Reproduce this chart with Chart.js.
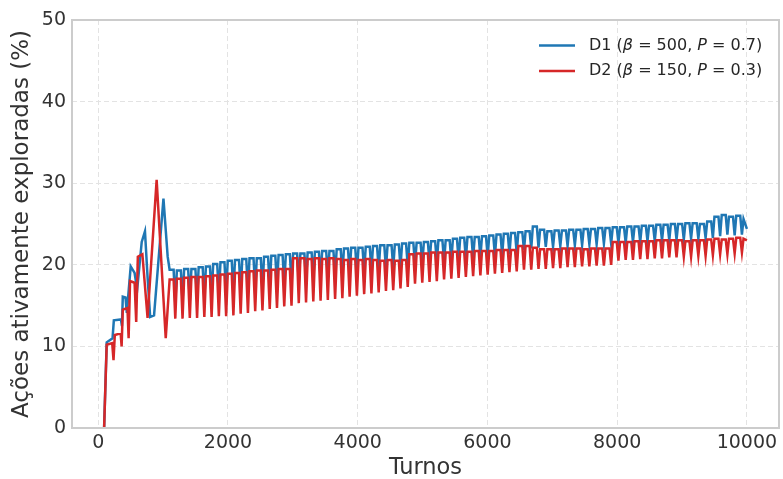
<!DOCTYPE html>
<html>
<head>
<meta charset="utf-8">
<script src="https://cdn.jsdelivr.net/npm/chart.js@4"></script>
<style>
  html, body { margin: 0; padding: 0; background: #fff; }
  #wrap { width: 783px; height: 479px; }
</style>
</head>
<body>
<div id="wrap"><canvas id="chart"></canvas></div>
<script>
// início (transiente) das duas curvas: turno e valor (%)
const blueStartTurns = [90, 130, 220, 240, 350, 365, 378, 420, 440, 500, 560, 600, 670, 720, 760, 800, 860, 1005, 1070];
const blueStartVals  = [0, 10.5, 11.0, 13.2, 13.3, 12.5, 16.1, 16.0, 14.1, 19.8, 19.0, 17.0, 22.8, 24.1, 18.5, 13.6, 13.8, 28.1, 21.0];
const redStartTurns  = [90, 130, 215, 235, 255, 345, 360, 378, 450, 468, 490, 560, 585, 610, 680, 760, 900, 1040];
const redStartVals   = [0, 10.2, 10.4, 8.3, 11.4, 11.6, 10.0, 14.5, 14.7, 11.0, 18.0, 17.8, 13.0, 21.0, 21.3, 13.5, 30.4, 11.0];

// depois do transiente: oscilação (topo e fundo de cada ciclo)
const cycleStart = 1100;
const cyclePeriod = 112;
const blueTops = [
  19.4, 19.3, 19.5, 19.5, 19.7, 19.8, 20.1, 20.3, 20.5,
  20.6, 20.7, 20.8, 20.8, 21.0, 21.1, 21.2, 21.3,
  21.4, 21.4, 21.5, 21.6, 21.7, 21.7, 21.9, 22.0, 22.1, 22.1, 22.2, 22.3, 22.4, 22.4, 22.5, 22.6,
  22.7, 22.7, 22.8, 22.9, 23.0, 23.0, 23.2, 23.3, 23.4, 23.4, 23.5, 23.6, 23.7, 23.8, 23.9,
  24.0, 24.1, 24.7, 24.3, 24.1, 24.2, 24.2, 24.3, 24.3, 24.4, 24.4, 24.5, 24.5,
  24.6, 24.6, 24.7, 24.7, 24.8, 24.8, 24.9, 24.9, 25.0, 25.0, 25.1, 25.1, 25.0, 25.3, 25.9, 26.1, 25.9, 26.0, 25.6
];
const blueBottoms = [
  15.3, 15.5, 15.6, 15.8, 15.9, 16.1, 16.2, 16.4, 16.5,
  16.7, 16.8, 17.0, 17.1, 17.3, 17.4, 17.6, 17.7,
  17.9, 18.1, 18.2, 18.4, 18.5, 18.7, 18.8, 19.0, 19.1, 19.2, 19.3, 19.4, 19.5, 19.6, 19.7, 19.8,
  20.0, 20.1, 20.2, 20.3, 20.4, 20.5, 20.6, 20.7, 20.8, 20.9, 21.0, 21.1, 21.2, 21.3, 21.4,
  21.8, 22.0, 22.1, 22.2, 22.2, 22.3, 22.3, 22.4, 22.4, 22.5, 22.5, 22.6, 22.6,
  22.7, 22.7, 22.8, 22.8, 22.9, 22.9, 23.0, 23.0, 23.1, 23.1, 23.2, 23.2, 23.3, 23.3, 23.5, 23.7, 23.6, 23.7, 23.6
];
const redTops = [
  18.2, 18.3, 18.4, 18.5, 18.5, 18.6, 18.7, 18.8, 18.9,
  19.0, 19.1, 19.2, 19.3, 19.3, 19.4, 19.5, 19.5,
  20.8, 20.8, 20.7, 20.8, 20.7, 20.8, 20.7, 20.6, 20.7, 20.6, 20.7, 20.6, 20.5, 20.6, 20.5, 20.6,
  21.3, 21.4, 21.4, 21.5, 21.5, 21.5, 21.6, 21.6, 21.6, 21.7, 21.7, 21.7, 21.8, 21.8, 21.8,
  22.3, 22.3, 22.1, 21.9, 21.9, 21.9, 22.0, 22.0, 22.0, 21.9, 22.0, 22.0, 22.0,
  22.8, 22.8, 22.8, 22.9, 22.9, 22.9, 23.0, 23.0, 23.0, 23.0, 22.9, 23.0, 23.0, 23.1, 23.2, 23.1, 23.2, 23.3, 23.2
];
const redBottoms = [
  13.4, 13.4, 13.5, 13.5, 13.6, 13.6, 13.7, 13.7, 13.8,
  14.0, 14.1, 14.3, 14.4, 14.6, 14.7, 14.9, 15.0,
  15.3, 15.4, 15.5, 15.6, 15.7, 15.8, 15.9, 16.1, 16.2, 16.4, 16.5, 16.6, 16.8, 16.9, 17.1, 17.3,
  17.7, 17.8, 17.9, 18.0, 18.2, 18.3, 18.4, 18.5, 18.6, 18.7, 18.8, 18.9, 19.0, 19.1, 19.2,
  19.4, 19.4, 19.5, 19.5, 19.6, 19.6, 19.7, 19.7, 19.8, 19.8, 19.9, 19.9, 20.0,
  20.5, 20.6, 20.6, 20.7, 20.7, 20.8, 20.8, 20.9, 20.9, 21.0, 21.0, 21.1, 21.1, 21.2, 21.3, 21.3, 21.4, 21.5, 21.5
];
const lastTurn = 10000;
const blueLast = 24.4;
const redLast = 23.0;

const xTicks = [0, 2000, 4000, 6000, 8000, 10000];
const yTicks = [0, 10, 20, 30, 40, 50];

const BLUE = '#1f77b4';
const RED = '#d62728';
const FONT = "'DejaVu Sans', sans-serif";

function buildSeries(turns, vals, tops, bottoms, last) {
  const pts = turns.map((t, i) => ({ x: t, y: vals[i] }));
  tops.forEach((top, k) => {
    const x0 = cycleStart + k * cyclePeriod;
    [[x0, top], [x0 + 0.55 * cyclePeriod, top], [x0 + 0.78 * cyclePeriod, bottoms[k]]].forEach(([x, y]) => {
      if (x < lastTurn) pts.push({ x, y });
    });
  });
  pts.push({ x: lastTurn, y: last });
  return pts;
}

// moldura cinza em volta da área do gráfico
const framePlugin = {
  id: 'frame',
  afterDatasetsDraw(chart) {
    const a = chart.chartArea, c = chart.ctx;
    c.save();
    c.strokeStyle = '#cccccc';
    c.lineWidth = 2;
    c.strokeRect(a.left, a.top, a.right - a.left, a.bottom - a.top);
    c.restore();
  }
};

// legenda com β e P em itálico
const legendPlugin = {
  id: 'mathLegend',
  afterDraw(chart) {
    const c = chart.ctx;
    const rows = [
      { color: BLUE, parts: [['D1 (', 0], ['β', 1], [' = 500, ', 0], ['P', 1], [' = 0.7)', 0]] },
      { color: RED,  parts: [['D2 (', 0], ['β', 1], [' = 150, ', 0], ['P', 1], [' = 0.3)', 0]] }
    ];
    c.save();
    c.textBaseline = 'middle';
    rows.forEach((r, i) => {
      const y = 45.5 + i * 25.5;
      c.strokeStyle = r.color;
      c.lineWidth = 2.5;
      c.beginPath();
      c.moveTo(539, y);
      c.lineTo(575, y);
      c.stroke();
      let x = 589;
      c.fillStyle = '#262626';
      r.parts.forEach(([txt, it]) => {
        c.font = (it ? 'italic ' : '') + '16px ' + FONT;
        c.fillText(txt, x, y);
        x += c.measureText(txt).width;
      });
    });
    c.restore();
  }
};

new Chart(document.getElementById('chart'), {
  type: 'line',
  data: {
    datasets: [
      {
        label: 'D1',
        data: buildSeries(blueStartTurns, blueStartVals, blueTops, blueBottoms, blueLast),
        borderColor: BLUE,
        borderWidth: 2.5,
        pointRadius: 0,
        fill: false,
        order: 2
      },
      {
        label: 'D2',
        data: buildSeries(redStartTurns, redStartVals, redTops, redBottoms, redLast),
        borderColor: RED,
        borderWidth: 2.5,
        pointRadius: 0,
        fill: false,
        order: 1
      }
    ]
  },
  options: {
    responsive: true,
    maintainAspectRatio: false,
    animation: false,
    layout: { padding: { top: 20, right: 4, left: 0, bottom: 0 } },
    plugins: { legend: { display: false }, tooltip: { enabled: false } },
    scales: {
      x: {
        type: 'linear',
        min: -405,
        max: 10495,
        afterBuildTicks: s => { s.ticks = xTicks.map(v => ({ value: v })); },
        afterFit: s => { s.height = 51; },
        grid: { color: '#e3e3e3', lineWidth: 1, drawTicks: false },
        border: { display: false, dash: [5, 3] },
        ticks: { font: { family: FONT, size: 19 }, color: '#333333', padding: 4, maxRotation: 0, callback: v => String(v) },
        title: { display: true, text: 'Turnos', font: { family: FONT, size: 22.5, lineHeight: 1.0 }, color: '#333333', padding: { top: 0, bottom: 0 } }
      },
      y: {
        min: 0,
        max: 50,
        afterBuildTicks: s => { s.ticks = yTicks.map(v => ({ value: v })); },
        afterFit: s => { s.width = 72; },
        grid: { color: '#e3e3e3', lineWidth: 1, drawTicks: false },
        border: { display: false, dash: [5, 3] },
        ticks: { font: { family: FONT, size: 19 }, color: '#333333', padding: 6, callback: v => String(v) },
        title: { display: true, text: 'Ações ativamente exploradas (%)', font: { family: FONT, size: 23, lineHeight: 1.2 }, color: '#333333', padding: { top: 8.5, bottom: 0 } }
      }
    }
  },
  plugins: [framePlugin, legendPlugin]
});
</script>
</body>
</html>
